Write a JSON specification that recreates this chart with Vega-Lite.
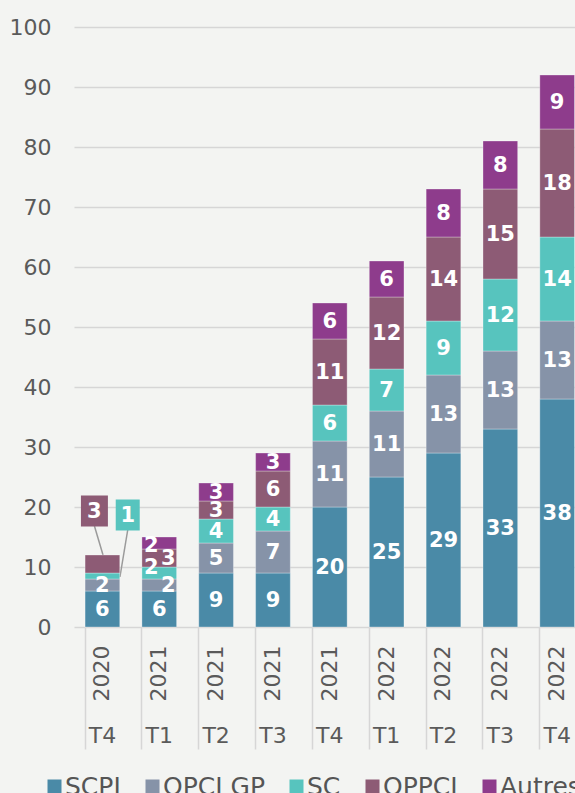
{
  "$schema": "https://vega.github.io/schema/vega-lite/v6.json",
  "autosize": "none",
  "padding": {"left": 74, "top": 27, "right": 0, "bottom": 166},
  "width": 501,
  "height": 600,
  "background": "#f3f4f2",
  "config": {
    "view": {"stroke": null},
    "font": "DejaVu Sans",
    "axis": {"labelFont": "DejaVu Sans", "labelFontSize": 22, "labelColor": "#5a5a5a", "titleFontSize": 0},
    "legend": {"labelFont": "DejaVu Sans", "labelFontSize": 25, "labelColor": "#555555", "symbolType": "square", "symbolSize": 196, "symbolStrokeWidth": 0, "columnPadding": 19, "labelOffset": -2, "gridAlign": "none", "padding": 0, "orient": "none", "legendX": -32, "legendY": 747, "direction": "horizontal"}
  },
  "data": {"values": [
    {"cat": "2020 T4", "serie": "SCPI", "value": 6},
    {"cat": "2020 T4", "serie": "OPCI GP", "value": 2},
    {"cat": "2020 T4", "serie": "SC", "value": 1},
    {"cat": "2020 T4", "serie": "OPPCI", "value": 3},
    {"cat": "2021 T1", "serie": "SCPI", "value": 6},
    {"cat": "2021 T1", "serie": "OPCI GP", "value": 2},
    {"cat": "2021 T1", "serie": "SC", "value": 2},
    {"cat": "2021 T1", "serie": "OPPCI", "value": 3},
    {"cat": "2021 T1", "serie": "Autres", "value": 2},
    {"cat": "2021 T2", "serie": "SCPI", "value": 9},
    {"cat": "2021 T2", "serie": "OPCI GP", "value": 5},
    {"cat": "2021 T2", "serie": "SC", "value": 4},
    {"cat": "2021 T2", "serie": "OPPCI", "value": 3},
    {"cat": "2021 T2", "serie": "Autres", "value": 3},
    {"cat": "2021 T3", "serie": "SCPI", "value": 9},
    {"cat": "2021 T3", "serie": "OPCI GP", "value": 7},
    {"cat": "2021 T3", "serie": "SC", "value": 4},
    {"cat": "2021 T3", "serie": "OPPCI", "value": 6},
    {"cat": "2021 T3", "serie": "Autres", "value": 3},
    {"cat": "2021 T4", "serie": "SCPI", "value": 20},
    {"cat": "2021 T4", "serie": "OPCI GP", "value": 11},
    {"cat": "2021 T4", "serie": "SC", "value": 6},
    {"cat": "2021 T4", "serie": "OPPCI", "value": 11},
    {"cat": "2021 T4", "serie": "Autres", "value": 6},
    {"cat": "2022 T1", "serie": "SCPI", "value": 25},
    {"cat": "2022 T1", "serie": "OPCI GP", "value": 11},
    {"cat": "2022 T1", "serie": "SC", "value": 7},
    {"cat": "2022 T1", "serie": "OPPCI", "value": 12},
    {"cat": "2022 T1", "serie": "Autres", "value": 6},
    {"cat": "2022 T2", "serie": "SCPI", "value": 29},
    {"cat": "2022 T2", "serie": "OPCI GP", "value": 13},
    {"cat": "2022 T2", "serie": "SC", "value": 9},
    {"cat": "2022 T2", "serie": "OPPCI", "value": 14},
    {"cat": "2022 T2", "serie": "Autres", "value": 8},
    {"cat": "2022 T3", "serie": "SCPI", "value": 33},
    {"cat": "2022 T3", "serie": "OPCI GP", "value": 13},
    {"cat": "2022 T3", "serie": "SC", "value": 12},
    {"cat": "2022 T3", "serie": "OPPCI", "value": 15},
    {"cat": "2022 T3", "serie": "Autres", "value": 8},
    {"cat": "2022 T4", "serie": "SCPI", "value": 38},
    {"cat": "2022 T4", "serie": "OPCI GP", "value": 13},
    {"cat": "2022 T4", "serie": "SC", "value": 14},
    {"cat": "2022 T4", "serie": "OPPCI", "value": 18},
    {"cat": "2022 T4", "serie": "Autres", "value": 9}
  ]},
  "transform": [
    {"calculate": "indexof(['SCPI','OPCI GP','SC','OPPCI','Autres'], datum.serie)", "as": "ord"},
    {"stack": "value", "groupby": ["cat"], "sort": [{"field": "ord", "order": "ascending"}], "as": ["v0", "v1"]},
    {"calculate": "(datum.v0 + datum.v1) / 2", "as": "mid"}
  ],
  "encoding": {
    "x": {"field": "cat", "type": "nominal", "sort": null, "title": null,
      "scale": {"range": [0, 511.6], "paddingInner": 0.39, "paddingOuter": 0.195}}
  },
  "resolve": {"axis": {"x": "independent"}},
  "layer": [
    {
      "transform": [{"filter": "datum.cat == '2020 T4' && datum.serie == 'OPPCI'"}],
      "mark": {"type": "rule", "color": "#9a9a9a", "strokeWidth": 1.5, "xOffset": 0.6, "x2Offset": -8, "yOffset": 0, "y2Offset": -29},
      "encoding": {
        "x": {"field": "cat", "type": "nominal", "sort": null, "axis": null, "bandPosition": 0.5},
        "x2": {"field": "cat", "bandPosition": 0.5},
        "y": {"field": "v1", "type": "quantitative"},
        "y2": {"field": "v1"}
      }
    },
    {
      "transform": [{"filter": "datum.cat == '2020 T4' && datum.serie == 'SC'"}],
      "mark": {"type": "rule", "color": "#9a9a9a", "strokeWidth": 1.5, "xOffset": 17.5, "x2Offset": 25.3, "yOffset": 1, "y2Offset": -46},
      "encoding": {
        "x": {"field": "cat", "type": "nominal", "sort": null, "axis": null, "bandPosition": 0.5},
        "x2": {"field": "cat", "bandPosition": 0.5},
        "y": {"field": "mid", "type": "quantitative"},
        "y2": {"field": "mid"}
      }
    },
    {
      "mark": {"type": "bar", "stroke": "#ffffff", "strokeWidth": 0.6, "strokeOpacity": 0.5},
      "encoding": {
        "x": {"field": "cat", "type": "nominal", "sort": null,
          "axis": {"orient": "bottom", "labelAngle": -90, "labelExpr": "split(datum.label, ' ')[0]", "domain": false, "grid": false,
            "ticks": true, "bandPosition": 0, "tickSize": 122, "tickColor": "#d6d6d6", "tickWidth": 1.5, "labelPadding": -104, "labelAlign": "right", "labelBaseline": "middle"}},
        "y": {"field": "v0", "type": "quantitative", "title": null,
          "scale": {"domain": [0, 100], "nice": false},
          "axis": {"values": [0, 10, 20, 30, 40, 50, 60, 70, 80, 90, 100], "domain": false, "ticks": false, "grid": true, "gridColor": "#d6d6d6", "gridWidth": 1.5, "labelPadding": 23}},
        "y2": {"field": "v1"},
        "color": {"field": "serie", "type": "nominal", "title": null,
          "scale": {"domain": ["SCPI", "OPCI GP", "SC", "OPPCI", "Autres"], "range": ["#4a8aa7", "#8693a8", "#57c4be", "#8d5b75", "#8e3c8c"]}},
        "order": {"field": "ord", "type": "quantitative"}
      }
    },
    {
      "transform": [{"filter": "!(datum.cat == '2020 T4' && (datum.serie == 'SC' || datum.serie == 'OPPCI')) && datum.cat != '2021 T1'"}],
      "mark": {"type": "text", "color": "#ffffff", "font": "DejaVu Sans", "fontWeight": "bold", "fontSize": 21, "baseline": "middle", "dy": 1},
      "encoding": {
        "x": {"field": "cat", "type": "nominal", "sort": null,
          "axis": {"orient": "bottom", "labelAngle": 0, "labelExpr": "split(datum.label, ' ')[1]", "domain": false, "grid": false, "ticks": false, "labelPadding": 98, "labelBaseline": "top"}},
        "y": {"field": "mid", "type": "quantitative"},
        "text": {"field": "value", "type": "quantitative"}
      }
    },
    {
      "transform": [{"filter": "datum.cat == '2021 T1' && datum.serie == 'SCPI'"}],
      "mark": {"type": "text", "color": "#ffffff", "font": "DejaVu Sans", "fontWeight": "bold", "fontSize": 21, "baseline": "middle", "dy": 1},
      "encoding": {
        "x": {"field": "cat", "type": "nominal", "sort": null, "axis": null},
        "y": {"field": "mid", "type": "quantitative"},
        "text": {"field": "value", "type": "quantitative"}
      }
    },
    {
      "transform": [{"filter": "datum.cat == '2021 T1' && datum.serie == 'Autres'"}],
      "mark": {"type": "text", "color": "#ffffff", "font": "DejaVu Sans", "fontWeight": "bold", "fontSize": 21, "baseline": "middle", "dx": -8, "dy": 3},
      "encoding": {
        "x": {"field": "cat", "type": "nominal", "sort": null, "axis": null},
        "y": {"field": "mid", "type": "quantitative"},
        "text": {"field": "value", "type": "quantitative"}
      }
    },
    {
      "transform": [{"filter": "datum.cat == '2021 T1' && datum.serie == 'SC'"}],
      "mark": {"type": "text", "color": "#ffffff", "font": "DejaVu Sans", "fontWeight": "bold", "fontSize": 21, "baseline": "middle", "dx": -8, "dy": -5},
      "encoding": {
        "x": {"field": "cat", "type": "nominal", "sort": null, "axis": null},
        "y": {"field": "mid", "type": "quantitative"},
        "text": {"field": "value", "type": "quantitative"}
      }
    },
    {
      "transform": [{"filter": "datum.cat == '2021 T1' && (datum.serie == 'OPCI GP' || datum.serie == 'OPPCI')"}],
      "mark": {"type": "text", "color": "#ffffff", "font": "DejaVu Sans", "fontWeight": "bold", "fontSize": 21, "baseline": "middle", "dx": 9, "dy": 1},
      "encoding": {
        "x": {"field": "cat", "type": "nominal", "sort": null, "axis": null},
        "y": {"field": "mid", "type": "quantitative"},
        "text": {"field": "value", "type": "quantitative"}
      }
    },
    {
      "transform": [{"filter": "datum.cat == '2020 T4' && datum.serie == 'OPPCI'"}],
      "mark": {"type": "point", "shape": "M-0.87,-1H0.87V1H-0.87Z", "size": 961, "filled": true, "opacity": 1, "color": "#8d5b75", "xOffset": -8, "yOffset": -44},
      "encoding": {
        "x": {"field": "cat", "type": "nominal", "sort": null, "axis": null},
        "y": {"field": "v1", "type": "quantitative"}
      }
    },
    {
      "transform": [{"filter": "datum.cat == '2020 T4' && datum.serie == 'OPPCI'"}],
      "mark": {"type": "text", "color": "#ffffff", "font": "DejaVu Sans", "fontWeight": "bold", "fontSize": 21, "baseline": "middle", "dx": -8, "dy": -43},
      "encoding": {
        "x": {"field": "cat", "type": "nominal", "sort": null, "axis": null},
        "y": {"field": "v1", "type": "quantitative"},
        "text": {"field": "value", "type": "quantitative"}
      }
    },
    {
      "transform": [{"filter": "datum.cat == '2020 T4' && datum.serie == 'SC'"}],
      "mark": {"type": "point", "shape": "M-0.774,-1H0.774V1H-0.774Z", "size": 961, "filled": true, "opacity": 1, "color": "#57c4be", "xOffset": 25.3, "yOffset": -61},
      "encoding": {
        "x": {"field": "cat", "type": "nominal", "sort": null, "axis": null},
        "y": {"field": "mid", "type": "quantitative"}
      }
    },
    {
      "transform": [{"filter": "datum.cat == '2020 T4' && datum.serie == 'SC'"}],
      "mark": {"type": "text", "color": "#ffffff", "font": "DejaVu Sans", "fontWeight": "bold", "fontSize": 21, "baseline": "middle", "dx": 25.3, "dy": -60},
      "encoding": {
        "x": {"field": "cat", "type": "nominal", "sort": null, "axis": null},
        "y": {"field": "mid", "type": "quantitative"},
        "text": {"field": "value", "type": "quantitative"}
      }
    }
  ]
}
